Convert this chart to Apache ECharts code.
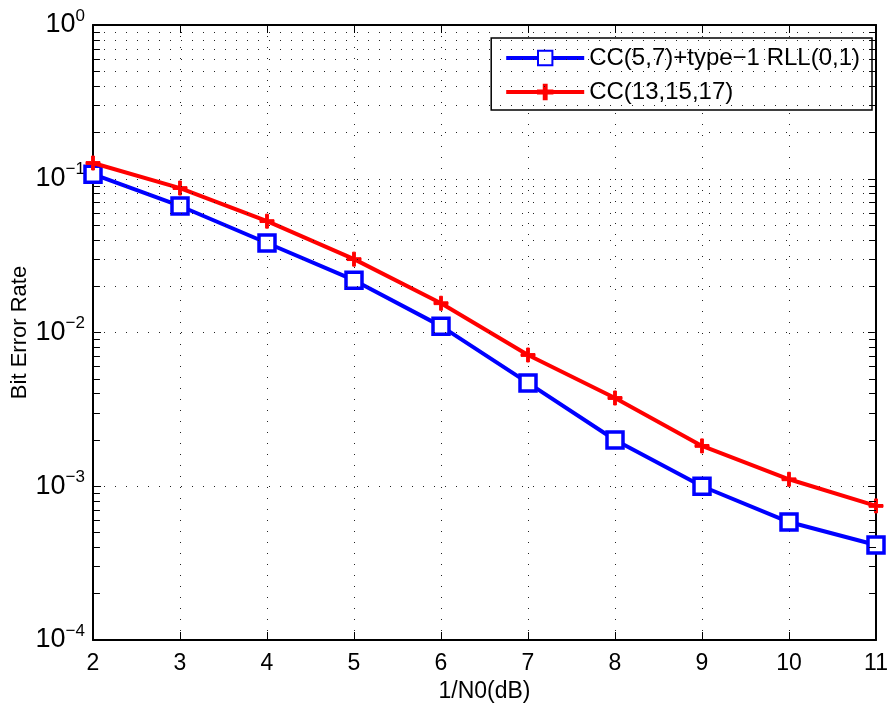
<!DOCTYPE html>
<html><head><meta charset="utf-8">
<script src="https://cdn.jsdelivr.net/npm/echarts@6/dist/echarts.min.js"></script>
<style>html,body{margin:0;padding:0;background:#fff}#c{width:889px;height:706px}</style>
</head><body><div id="c"></div>
<script>
const xValues = [2, 3, 4, 5, 6, 7, 8, 9, 10, 11];
const seriesNames = ['CC(5,7)+type\u22121 RLL(0,1)', 'CC(13,15,17)'];
const blueBER = [0.107, 0.0665, 0.0382, 0.0219, 0.0110, 0.0047, 0.0020, 0.0010, 0.000585, 0.000415];
const redBER = [0.1266, 0.087, 0.053, 0.030, 0.0155, 0.00714, 0.00375, 0.00183, 0.00111, 0.000745];
const yDecades = [1e-4, 1e-3, 1e-2, 1e-1, 1];
const minorGrid = [];
for (let d = 0; d < 4; d++) for (let m = 2; m <= 9; m++) minorGrid.push(m * yDecades[d]);

const FONT = 'Liberation Sans, Arial, sans-serif';
const FS = 23;
const chart = echarts.init(document.getElementById('c'));
const yFmt = v => { const e = Math.round(Math.log10(v)); return '10{s|' + (e < 0 ? '\u2212' + (-e) : e) + '}'; };
const DOT = [1, 10];
const gridLine = {show: true, lineStyle: {color: '#222', type: DOT, width: 1}};
const tickLen = 0.08;
const minorTicks = [];
minorGrid.forEach(v => {
  minorTicks.push([{coord: [2, v]}, {coord: [2 + tickLen, v]}]);
  minorTicks.push([{coord: [11 - tickLen, v]}, {coord: [11, v]}]);
});
chart.setOption({
  animation: false,
  grid: {left: 93, right: 13, top: 25, bottom: 66, containLabel: false, outerBoundsMode: 'none'},
  legend: {
    top: 38, right: 17, orient: 'vertical', itemWidth: 78, itemHeight: 18, itemGap: 10,
    backgroundColor: '#fff', borderColor: '#000', borderWidth: 1.5, padding: [8, 12, 6, 13],
    lineStyle: {width: 4},
    textStyle: {fontFamily: FONT, fontSize: 24, color: '#000'}
  },
  xAxis: [{
    type: 'value', min: 2, max: 11, interval: 1,
    name: '1/N0(dB)', nameLocation: 'middle', nameGap: 40, nameMoveOverlap: false,
    nameTextStyle: {fontFamily: FONT, fontSize: FS, color: '#000'},
    axisLine: {show: true, lineStyle: {color: '#000', width: 2}},
    axisTick: {show: true, inside: true, length: 8, lineStyle: {color: '#000'}},
    axisLabel: {fontFamily: FONT, fontSize: FS, color: '#000', margin: 12},
    splitLine: gridLine
  }, {
    type: 'value', min: 2, max: 11, interval: 1, position: 'top',
    axisLine: {show: true, lineStyle: {color: '#000', width: 2}},
    axisTick: {show: true, inside: true, length: 8, lineStyle: {color: '#000'}},
    axisLabel: {show: false}, splitLine: {show: false}
  }],
  yAxis: [{
    type: 'log', logBase: 10, min: 1e-4, max: 1,
    name: 'Bit Error Rate', nameLocation: 'middle', nameGap: 62, nameRotate: 90, nameMoveOverlap: false,
    nameTextStyle: {fontFamily: FONT, fontSize: FS - 1, color: '#000'},
    axisLine: {show: true, lineStyle: {color: '#000', width: 2}},
    axisTick: {show: true, inside: true, length: 8, lineStyle: {color: '#000'}},
    axisLabel: {fontFamily: FONT, fontSize: FS + 4, color: '#000', margin: 8, formatter: yFmt,
      rich: {s: {fontFamily: FONT, fontSize: 17, verticalAlign: 'top', padding: [0, 0, 18, 0], color: '#000'}}},
    splitLine: gridLine
  }, {
    type: 'log', logBase: 10, min: 1e-4, max: 1, position: 'right',
    axisLine: {show: true, lineStyle: {color: '#000', width: 2}},
    axisTick: {show: true, inside: true, length: 8, lineStyle: {color: '#000'}},
    axisLabel: {show: false}, splitLine: {show: false}
  }],
  series: [{
    name: seriesNames[0], type: 'line', data: xValues.map((x, i) => [x, blueBER[i]]),
    lineStyle: {color: '#0000ff', width: 4}, itemStyle: {color: '#fff', borderColor: '#0000ff', borderWidth: 3.5},
    symbol: 'rect', symbolSize: 16, showSymbol: true, z: 3,
    markLine: {silent: true, symbol: 'none', label: {show: false}, animation: false,
      lineStyle: {color: '#222', type: DOT, width: 1},
      data: minorGrid.map(v => ({yAxis: v}))}
  }, {
    name: seriesNames[1], type: 'line', data: xValues.map((x, i) => [x, redBER[i]]),
    lineStyle: {color: '#ff0000', width: 4}, itemStyle: {color: '#ff0000', borderColor: '#ff0000', borderWidth: 1},
    symbol: 'path://M4,0 L6,0 L6,4 L10,4 L10,6 L6,6 L6,10 L4,10 L4,6 L0,6 L0,4 L4,4 Z',
    symbolSize: 14, z: 4,
    markLine: {silent: true, symbol: 'none', label: {show: false}, animation: false,
      lineStyle: {color: '#000', type: 'solid', width: 1},
      data: minorTicks}
  }]
});
</script></body></html>
